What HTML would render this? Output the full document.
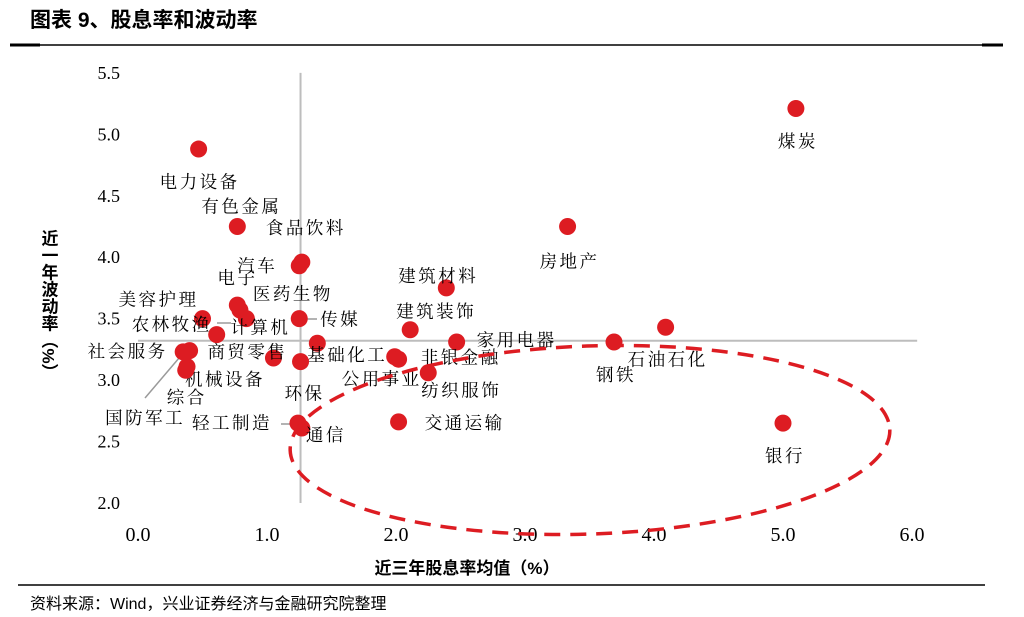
<!DOCTYPE html>
<html><head><meta charset="utf-8"><style>
body{margin:0;background:#fff;width:1024px;height:617px;overflow:hidden;font-family:"Liberation Serif","Noto Serif CJK SC",serif;}
svg{position:absolute;left:0;top:0}
</style></head><body>
<svg id="chart" width="1024" height="617">
<text x="30" y="27" font-size="21" font-weight="bold" font-family="'Liberation Sans','Noto Sans CJK SC',sans-serif">图表 9、股息率和波动率</text>
<line x1="10" y1="45" x2="1003" y2="45" stroke="#000" stroke-width="1.5"/>
<line x1="10" y1="45" x2="40" y2="45" stroke="#000" stroke-width="3"/>
<line x1="982" y1="45" x2="1003" y2="45" stroke="#000" stroke-width="3"/>
<line x1="18" y1="585" x2="985" y2="585" stroke="#000" stroke-width="1.5"/>
<text x="30" y="609" font-size="16" font-family="'Liberation Sans','Noto Sans CJK SC',sans-serif">资料来源：Wind，兴业证券经济与金融研究院整理</text>
<text x="467" y="574" font-size="17" font-weight="bold" text-anchor="middle" font-family="'Liberation Sans','Noto Sans CJK SC',sans-serif">近三年股息率均值（%）</text>
<text x="48" y="305" font-size="17" font-weight="bold" text-anchor="middle" font-family="'Liberation Sans','Noto Sans CJK SC',sans-serif" style="writing-mode:vertical-rl">近一年波动率（%）</text>
<g id="g"></g>
</svg>
<script>
const xTicks=[0,1,2,3,4,5,6];
const yTicks=[2.0,2.5,3.0,3.5,4.0,4.5,5.0,5.5];
const names=["煤炭","电力设备","有色金属","食品饮料","汽车","房地产","建筑材料","电子","医药生物","美容护理","传媒","农林牧渔","计算机","建筑装饰","家用电器","社会服务","国防军工","商贸零售","基础化工","非银金融","公用事业","机械设备","环保","纺织服饰","综合","钢铁","石油石化","轻工制造","通信","交通运输","银行"];
const divYield=[5.10,0.47,0.77,1.27,1.25,3.33,2.39,0.77,0.79,0.50,1.25,0.61,0.84,2.11,2.47,0.40,0.35,1.05,1.39,1.99,2.02,0.38,1.26,2.25,0.37,3.69,4.09,1.24,1.27,2.02,5.00];
const vol=[5.21,4.88,4.25,3.96,3.93,4.25,3.75,3.61,3.57,3.50,3.50,3.37,3.50,3.41,3.31,3.24,3.23,3.18,3.30,3.19,3.17,3.11,3.15,3.06,3.08,3.31,3.43,2.65,2.61,2.66,2.65];
const refX=1.26, refY=3.32;
const off=[[-18,39],[-39,39],[-36,-14],[-36,-28],[-62,6],[-28,41],[-48,-6],[-20,-21],[13,-10],[-84,-13],[21,7],[-85,-4],[-16,15],[-14,-12],[20,4],[-102,7],[-78,72],[-66,0],[-10,18],[26,7],[-57,26],[-2,19],[-16,38],[-7,24],[-19,33],[-18,39],[-38,38],[-106,6],[4,13],[26,7],[-18,39]];
const lead={"国防军工":[[145,398],[185,351]],"社会服务":[[176,350],[190,350]],"计算机":[[217,323],[231,323]],"传媒":[[300,319],[317,319]],"轻工制造":[[281,424],[298,424]]};
const X=v=>138+v*129, Y=v=>503-(v-2)*122.9;
const NS="http://www.w3.org/2000/svg", g=document.getElementById('g');
function mk(t,a){const e=document.createElementNS(NS,t);for(const k in a)e.setAttribute(k,a[k]);g.appendChild(e);return e;}
xTicks.forEach(v=>{const e=mk('text',{x:X(v),y:541,'font-size':20,'text-anchor':'middle'});e.textContent=v.toFixed(1);

});
yTicks.forEach(v=>{const e=mk('text',{x:120,y:Y(v)+6,'font-size':18,'text-anchor':'end'});e.textContent=v.toFixed(1);

});
let l=mk('line',{x1:X(refX),y1:Y(5.5),x2:X(refX),y2:Y(2.0),stroke:'#bdbdbd','stroke-width':2});


l=mk('line',{x1:X(0),y1:Y(refY),x2:X(6.04),y2:Y(refY),stroke:'#bdbdbd','stroke-width':2});


for(const k in lead){const p=lead[k];const e=mk('line',{x1:p[0][0],y1:p[0][1],x2:p[1][0],y2:p[1][1],stroke:'#9a9a9a','stroke-width':1.5});

}
names.forEach((n,i)=>{const cx=X(divYield[i]),cy=Y(vol[i]);
const c=mk('circle',{cx:cx,cy:cy,r:8.5,fill:'#dd1c22'});


const t=mk('text',{x:cx+off[i][0],y:cy+off[i][1],'font-size':17.5,'letter-spacing':'2.5'});t.textContent=n;

});
const el=mk('ellipse',{cx:590,cy:440,rx:300,ry:94,fill:'none',stroke:'#dd1c22','stroke-width':3.5,'stroke-dasharray':'16 10',transform:'rotate(-2 590 440)'});


</script>
</body></html>
